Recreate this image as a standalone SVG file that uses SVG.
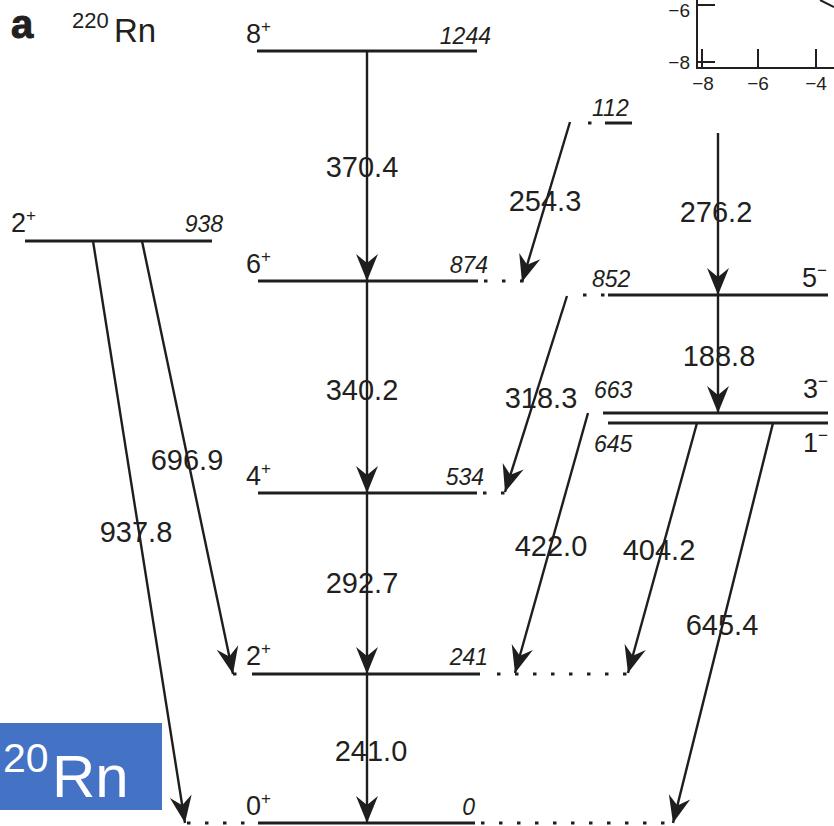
<svg xmlns="http://www.w3.org/2000/svg" width="834" height="826" viewBox="0 0 834 826">
<style>
.lvl{stroke:#1e1e1e;stroke-width:3;fill:none}
.dot{stroke:#1e1e1e;stroke-width:3;fill:none;stroke-dasharray:3.5 14.5}
.tr{stroke:#1e1e1e;stroke-width:2.4;fill:none;marker-end:url(#ah)}
.e{font-family:"Liberation Sans",Arial,sans-serif;font-size:29px;fill:#231f20;text-anchor:middle}
.sp{font-family:"Liberation Sans",Arial,sans-serif;font-size:27px;fill:#231f20}
.en{font-family:"Liberation Sans",Arial,sans-serif;font-size:23px;font-style:italic;fill:#231f20}
.ax{stroke:#231f20;stroke-width:2;fill:none}
.axt{font-family:"Liberation Sans",Arial,sans-serif;font-size:19px;fill:#231f20}
</style>
<defs>
<marker id="ah" viewBox="-28 -12 30 24" refX="0" refY="0" markerWidth="30" markerHeight="24" markerUnits="userSpaceOnUse" orient="auto">
<path d="M0,0 L-27,-11 L-18,0 L-27,11 Z" fill="#1e1e1e"/>
</marker>
<clipPath id="cut"><rect x="0" y="0" width="632" height="826"/></clipPath>
</defs>
<rect width="834" height="826" fill="#fff"/>

<g id="title">
<text x="11" y="38" font-family="Liberation Sans,Arial,sans-serif" font-size="40" font-weight="bold" fill="#231f20" stroke="#231f20" stroke-width="1">a</text>
<text x="72" y="28" font-family="Liberation Sans,Arial,sans-serif" font-size="22" fill="#231f20">220</text>
<text x="114" y="42" font-family="Liberation Sans,Arial,sans-serif" font-size="33" fill="#231f20">Rn</text>
</g>

<g id="inset">
<path class="ax" d="M697,0 V68 H834"/>
<path class="ax" d="M697,5 H715 M697,62 H715 M702,49 V68 M758,49 V68 M816,49 V68 M820,0 L834,7"/>
<text class="axt" x="690" y="17" text-anchor="end">−6</text>
<text class="axt" x="690" y="69" text-anchor="end">−8</text>
<text class="axt" x="703" y="90" text-anchor="middle">−8</text>
<text class="axt" x="758" y="90" text-anchor="middle">−6</text>
<text class="axt" x="816" y="90" text-anchor="middle">−4</text>
</g>

<g id="level-8plus">
<line class="lvl" x1="257" y1="51" x2="477" y2="51"/>
<text class="sp" x="246" y="43">8<tspan font-size="17" dy="-11">+</tspan></text>
<text class="en" x="491" y="44" text-anchor="end">1244</text>
</g>
<g id="level-2plus-938">
<line class="lvl" x1="25" y1="241" x2="212" y2="241"/>
<text class="sp" x="11" y="232">2<tspan font-size="17" dy="-11">+</tspan></text>
<text class="en" x="223" y="232" text-anchor="end">938</text>
</g>
<g id="level-6plus">
<line class="lvl" x1="258" y1="281" x2="478" y2="281"/>
<path class="dot" d="M484,281 H526"/>
<text class="sp" x="246" y="273">6<tspan font-size="17" dy="-11">+</tspan></text>
<text class="en" x="488" y="273" text-anchor="end">874</text>
</g>
<g id="level-4plus">
<line class="lvl" x1="258" y1="493" x2="477" y2="493"/>
<path class="dot" d="M483,493 H506"/>
<text class="sp" x="246" y="485">4<tspan font-size="17" dy="-11">+</tspan></text>
<text class="en" x="484" y="485" text-anchor="end">534</text>
</g>
<g id="level-2plus-241">
<line class="lvl" x1="252" y1="674" x2="480" y2="674"/>
<path class="dot" d="M233,674 H250 M497,674 H630"/>
<text class="sp" x="246" y="665">2<tspan font-size="17" dy="-11">+</tspan></text>
<text class="en" x="488" y="665" text-anchor="end">241</text>
</g>
<g id="level-0plus">
<line class="lvl" x1="258" y1="823" x2="475" y2="823"/>
<path class="dot" d="M187,823 H256 M481,823 H676"/>
<text class="sp" x="246" y="815">0<tspan font-size="17" dy="-11">+</tspan></text>
<text class="en" x="475" y="815" text-anchor="end">0</text>
</g>
<g id="level-112" clip-path="url(#cut)">
<line class="lvl" x1="605" y1="123" x2="640" y2="123"/>
<path class="dot" d="M588,123 H592"/>
<text class="en" x="592" y="116">112</text>
</g>
<g id="level-5minus">
<line class="lvl" x1="608" y1="295" x2="828" y2="295"/>
<path class="dot" d="M583,295 H605"/>
<text class="en" x="592" y="287">852</text>
<text class="sp" x="802" y="287">5<tspan font-size="17" dy="-11">−</tspan></text>
</g>
<g id="level-3minus">
<line class="lvl" x1="603" y1="413" x2="828" y2="413"/>
<text class="en" x="594" y="398">663</text>
<text class="sp" x="803" y="398">3<tspan font-size="17" dy="-11">−</tspan></text>
</g>
<g id="level-1minus">
<line class="lvl" x1="608" y1="423" x2="828" y2="423"/>
<text class="en" x="594" y="452">645</text>
<text class="sp" x="803" y="452">1<tspan font-size="17" dy="-11">−</tspan></text>
</g>

<g id="connectors">
<line class="tr" x1="367" y1="51" x2="367" y2="281"/>
<line class="tr" x1="367" y1="281" x2="367" y2="493"/>
<line class="tr" x1="367" y1="493" x2="367" y2="674"/>
<line class="tr" x1="367" y1="674" x2="367" y2="823"/>
<line class="tr" x1="570" y1="122" x2="522" y2="282"/>
<line class="tr" x1="718" y1="133" x2="718" y2="295"/>
<line class="tr" x1="718" y1="295" x2="718" y2="413"/>
<line class="tr" x1="567" y1="296" x2="505" y2="492"/>
<line class="tr" x1="142" y1="241" x2="233" y2="674"/>
<line class="tr" x1="93" y1="241" x2="185" y2="823"/>
<line class="tr" x1="588" y1="413" x2="515" y2="673"/>
<line class="tr" x1="697" y1="423" x2="628" y2="673"/>
<line class="tr" x1="773" y1="423" x2="673" y2="823"/>
</g>

<g id="labels">
<text class="e" x="362" y="177">370.4</text>
<text class="e" x="545" y="211">254.3</text>
<text class="e" x="716" y="222">276.2</text>
<text class="e" x="362" y="400">340.2</text>
<text class="e" x="541" y="408">318.3</text>
<text class="e" x="719" y="366">188.8</text>
<text class="e" x="187" y="470">696.9</text>
<text class="e" x="136" y="542">937.8</text>
<text class="e" x="362" y="593">292.7</text>
<text class="e" x="551" y="556">422.0</text>
<text class="e" x="659" y="560">404.2</text>
<text class="e" x="722" y="635">645.4</text>
<text class="e" x="371" y="761">241.0</text>
</g>

<g id="badge">
<rect x="0" y="723" width="162" height="87" fill="#4472c4"/>
<text x="3" y="772" font-family="Liberation Sans,Arial,sans-serif" font-size="41" fill="#fff">20</text>
<text x="52" y="797" font-family="Liberation Sans,Arial,sans-serif" font-size="60" fill="#fff">Rn</text>
</g>
</svg>
